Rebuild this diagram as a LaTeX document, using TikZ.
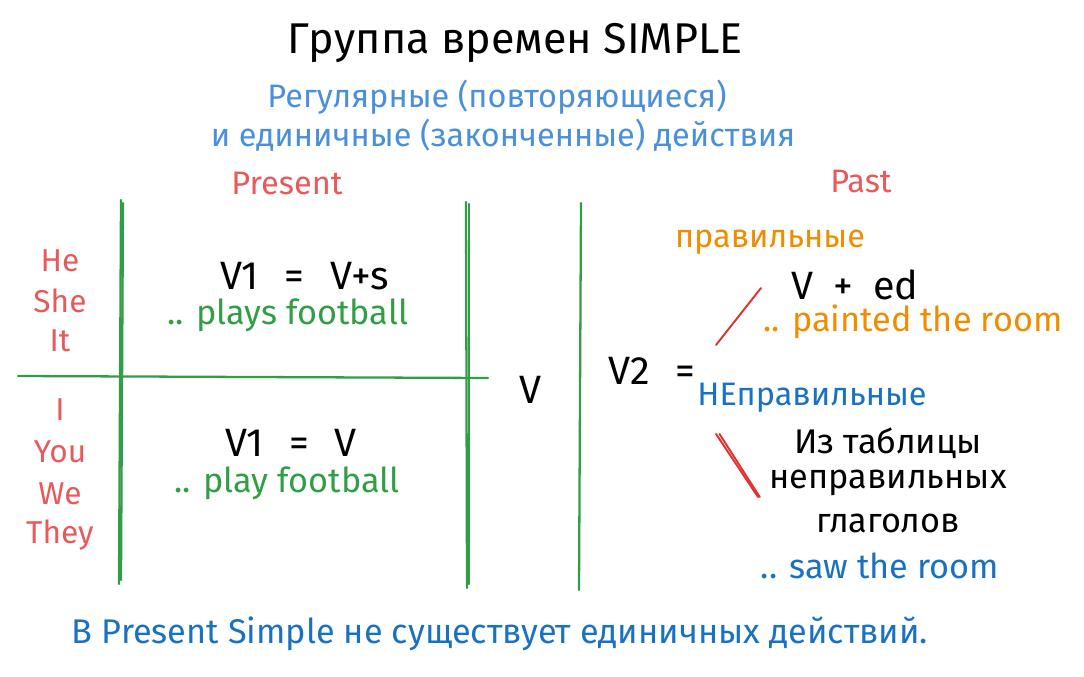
\documentclass[tikz,border=0pt]{standalone}
\usepackage{fontspec}
\setmainfont{Fira Sans}
\usetikzlibrary{positioning}
\definecolor{penred}{HTML}{E8595A}
\definecolor{pengreen}{HTML}{2F9E44}
\definecolor{penorange}{HTML}{F08C00}
\definecolor{penblue}{HTML}{1971C2}
\definecolor{skyblue}{HTML}{4A8FD9}
\definecolor{strokered}{HTML}{E03131}
\newcommand{\gap}{\hspace{0.65em}} % the wide spaces round = and +
\tikzset{
    x=0.02cm, y=-0.02cm, % one unit is one pixel of the reference, y runs down
    node distance=0.8cm, % distance between the stacked words
    every node/.style={inner sep=0pt, font=\fontsize{18.5}{22}\selectfont},
    heading/.style={font=\fontsize{24.5}{29}\selectfont},
    pronoun/.style={text=penred, font=\fontsize{18}{22}\selectfont},
    formula/.style={font=\fontsize{22.5}{27}\selectfont},
    sample/.style={font=\fontsize{19.5}{23}\selectfont},
    grid line/.style={draw=pengreen, line width=1.3pt, line cap=round}, % the table lines
    tick/.style={draw=strokered, line width=1.1pt, line cap=round}, % the red strokes at V2
}

\begin{document}
\begin{tikzpicture}
            \useasboundingbox (0,0) rectangle (1084,676);

            \node[heading] (title) at (515,43) {Группа времен SIMPLE};
            \node[text=skyblue] (sub1) at (497,97) {Регулярные (повторяющиеся)};
            \node[text=skyblue] (sub2) at (503,135) {и единичные (законченные) действия};
            \node[text=penred] (present) at (287,183) {Present};
            \node[text=penred] (past) at (861,181) {Past};

            % pronouns
            \node[pronoun] (he) at (60,261) {He};
            \node[pronoun, below of=he] (she) {She};
            \node[pronoun, below of=she] (it) {It};
            \node[pronoun] (i) at (60,410) {I};
            \node[pronoun, below of=i, yshift=-1pt] (you) {You};
            \node[pronoun, below of=you, yshift=-1pt] (we) {We};
            \node[pronoun, below of=we, yshift=-1pt] (they) {They};

            % present simple
            \node[formula] (vs) at (305,276) {V1\gap{}=\gap{}V+s};
            \node[sample, text=pengreen] (plays) at (288,315) {.. plays football};
            \node[formula] (v1) at (291,443) {V1\gap{}=\gap{}V};
            \node[sample, text=pengreen] (play) at (287,483) {.. play football};
            \node[formula] (v) at (530,390) {V};

            % past simple
            \node[formula] (v2) at (652,371) {V2\gap{}=};
            \node[text=penorange] (regular) at (770,242) {правильные};
            \node[formula] (ved) at (855,285) {V\enspace{}+\enspace{}ed};
            \node[sample, text=penorange] (painted) at (913,322) {.. painted the room};
            \node[text=penblue] (irregular) at (812,398) {НЕправильные};
            \node[sample] (table1) at (888,443) {Из таблицы};
            \node[sample, below of=table1] (table2) {неправильных};
            \node[sample, below of=table2] (table3) {глаголов};
            \node[sample, text=penblue] (saw) at (880,566) {.. saw the room};

            \node[sample, text=penblue] (note) at (500,634) {В Present Simple не существует единичных действий.};

            % table lines
            \draw[grid line] (121,200) -- (119,584);
            \draw[grid line] (123,203) -- (121,580);
            \draw[grid line] (466,202) -- (467,588);
            \draw[grid line] (469,204) -- (469,584);
            \draw[grid line] (18,376) -- (488,378);
            \draw[grid line] (581,203) -- (579,590);

            % strokes to the two kinds of verbs
            \coordinate (up start) at (716,345);
            \coordinate (up end) at (761,288);
            \coordinate (down start) at (716,434);
            \coordinate (down end) at (758,497);
            \draw[tick] (up start) -- (up end);
            \draw[tick] (down start) -- (down end);
            \draw[tick] ([xshift=2pt]down start) -- ([xshift=1pt]down end);
        \end{tikzpicture}
\end{document}
